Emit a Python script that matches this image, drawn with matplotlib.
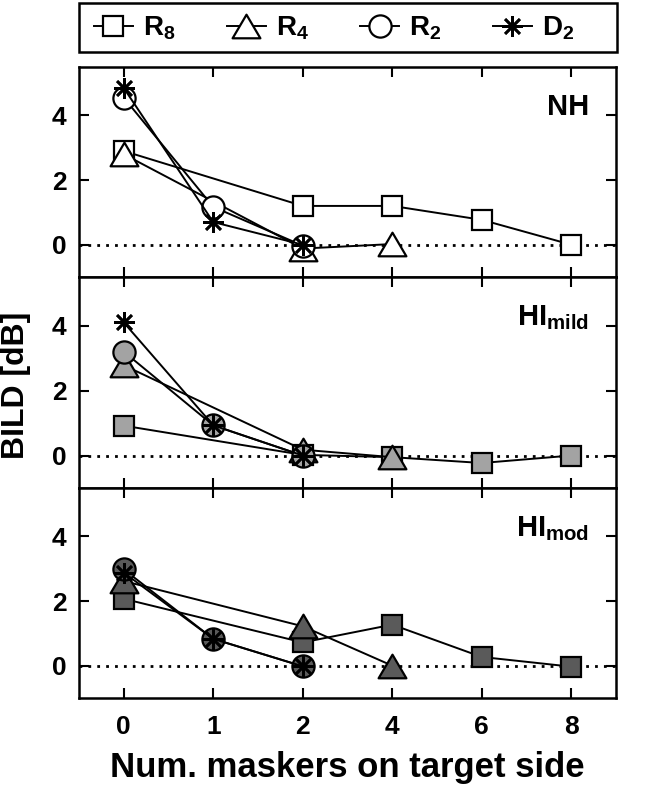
import matplotlib
matplotlib.use('Agg')
import matplotlib.pyplot as plt
from matplotlib.lines import Line2D
from matplotlib.path import Path
from matplotlib.patches import Rectangle

plt.rcParams['font.family'] = ['Liberation Sans', 'DejaVu Sans']
plt.rcParams['font.weight'] = 'bold'
plt.rcParams['mathtext.fontset'] = 'custom'
plt.rcParams['mathtext.rm'] = 'Liberation Sans:bold'
plt.rcParams['mathtext.it'] = 'Liberation Sans:bold'
plt.rcParams['mathtext.bf'] = 'Liberation Sans:bold'
plt.rcParams['mathtext.default'] = 'bf'

# ---- data ----
categories = ['0', '1', '2', '4', '6', '8']
x_R8 = ['0', '2', '4', '6', '8']
x_R4 = ['0', '2', '4']
x_R2 = ['0', '1', '2']
x_D2 = ['0', '1', '2']

NH_R8 = [2.9, 1.2, 1.2, 0.77, 0.0]
NH_R4 = [2.8, -0.12, 0.02]
NH_R2 = [4.55, 1.17, -0.03]
NH_D2 = [4.85, 0.7, 0.0]

mild_R8 = [0.92, 0.02, -0.05, -0.23, 0.0]
mild_R4 = [2.78, 0.18, -0.05]
mild_R2 = [3.2, 0.93, 0.0]
mild_D2 = [4.1, 0.93, 0.0]

mod_R8 = [2.07, 0.72, 1.27, 0.27, -0.03]
mod_R4 = [2.62, 1.22, 0.0]
mod_R2 = [2.98, 0.83, -0.02]
mod_D2 = [2.88, 0.83, -0.02]

series_labels = ['R$_8$', 'R$_4$', 'R$_2$', 'D$_2$']
panel_names = ['NH', 'HI$_{mild}$', 'HI$_{mod}$']
panel_fills = ['white', '#a3a3a3', '#5a5a5a']
y_ticks = [0, 2, 4]
x_label = 'Num. maskers on target side'
y_label = 'BILD [dB]'

panels = [
    [NH_R8, NH_R4, NH_R2, NH_D2],
    [mild_R8, mild_R4, mild_R2, mild_D2],
    [mod_R8, mod_R4, mod_R2, mod_D2],
]
xs = [x_R8, x_R4, x_R2, x_D2]

# ---- styles ----
tri = Path([(0, 0.85), (-1, -0.85), (1, -0.85), (0, 0.85)], closed=True)
markers = ['s', tri, 'o', (8, 2, 0)]
msizes = [14, 20, 16, 15]
mews = [1.6, 1.6, 1.6, 1.9]

W_PX, H_PX = 650, 786
fig = plt.figure(figsize=(W_PX / 100, H_PX / 100), dpi=100)
left_px, right_px = 79, 616
bounds = [(67, 277), (277, 488), (488, 698)]

axes = []
for i, (top, bot) in enumerate(bounds):
    ax = fig.add_axes([left_px / W_PX, 1 - bot / H_PX,
                       (right_px - left_px) / W_PX, (bot - top) / H_PX])
    axes.append(ax)
    ax.axhline(0, color='k', lw=2, ls=(0, (1, 2.2)), zorder=1)
    fill = panel_fills[i]
    for j in range(4):
        xpos = [categories.index(v) for v in xs[j]]
        mfc = fill if j < 3 else 'k'
        ax.plot(xpos, panels[i][j], color='k', lw=1.4, marker=markers[j],
                ms=msizes[j], mfc=mfc, mec='k', mew=mews[j], zorder=2 + j)
    ax.set_xlim(-0.5, 5.5)
    ax.set_ylim(-1, 5.5)
    ax.set_yticks(y_ticks)
    ax.set_xticks(range(len(categories)))
    ax.set_xticklabels(categories)
    ax.tick_params(direction='in', top=True, right=True, length=7, width=1.5,
                   labelsize=19, pad=9)
    ax.tick_params(axis='x', pad=12)
    if i < 2:
        ax.tick_params(labelbottom=False)
    for s in ax.spines.values():
        s.set_linewidth(1.8)
    ax.text(0.95, 0.77, panel_names[i], transform=ax.transAxes,
            ha='right', va='baseline', fontsize=21, fontweight='bold')

axes[-1].set_xlabel(x_label, fontsize=25, fontweight='bold', labelpad=9)
fig.text(16 / W_PX, 1 - 385 / H_PX, y_label, rotation=90, ha='center',
         va='center', fontsize=23, fontweight='bold')

# legend box (full axes width, like the reference)
fig.patches.append(Rectangle((left_px / W_PX, 1 - 52 / H_PX),
                             (right_px + 1 - left_px) / W_PX, 49 / H_PX,
                             transform=fig.transFigure, fill=False,
                             edgecolor='k', lw=1.8, zorder=5))

handles = [Line2D([], [], color='k', lw=1.4, marker=markers[j], ms=msizes[j],
                  mfc='white' if j < 3 else 'k', mec='k', mew=mews[j])
           for j in range(4)]
leg = fig.legend(handles, series_labels, loc='center left', ncol=4,
                 bbox_to_anchor=(94 / W_PX, 1 - 28 / H_PX),
                 frameon=False, fontsize=20, handlelength=1.4,
                 handletextpad=0.36, borderaxespad=0, borderpad=0,
                 columnspacing=1.85)

fig.savefig('out.png', dpi=100)
